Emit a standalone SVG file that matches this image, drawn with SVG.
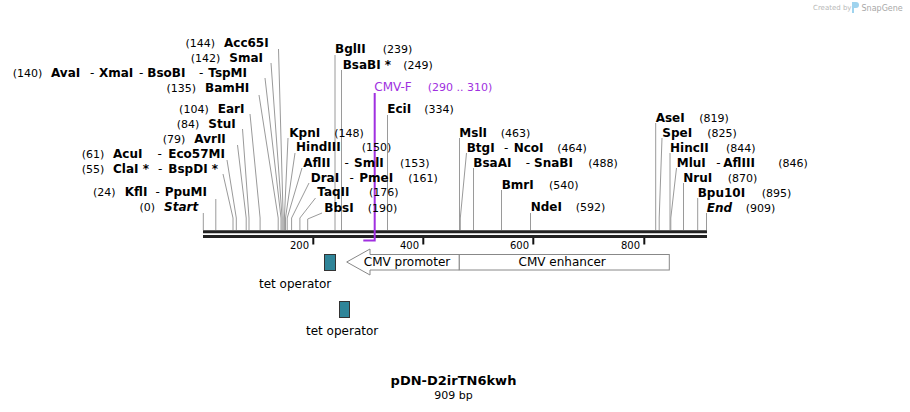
<svg xmlns="http://www.w3.org/2000/svg" width="910" height="412" viewBox="0 0 910 412">
<style>
text{font-family:"DejaVu Sans",Verdana,sans-serif;fill:#000}
.b{font-size:12px;font-weight:bold}
.h{font-size:12px;font-weight:normal}
.bi{font-size:12px;font-weight:bold;font-style:italic}
.n{font-size:11px}
.t{font-size:10px}
.f{font-size:12px}
.p{fill:#a030e0}
.c{fill:none;stroke:#9a9a9a;stroke-width:1}
.tick{stroke:#111;stroke-width:2}
.bb{stroke:#222;stroke-width:3}
.tet{fill:#2f8599;stroke:#333;stroke-width:1}
.feat{fill:#fff;stroke:#888;stroke-width:1}
</style>
<rect width="910" height="412" fill="#fff"/>

<g id="credit">
<text x="813" y="10" style="font-size:7px;fill:#b8b8b8">Created by</text>
<path d="M852,2 h4 a3,3 0 0 1 0,6 h-2 v5 h-2 z" fill="#9fd3ee"/>
<text x="861.5" y="11" style="font-size:8px;fill:#a8a8a8">SnapGene</text>
</g>

<g id="connectors">
<path class="c" d="M278.5,49 L283.2,218 V230"/>
<path class="c" d="M271,63 L282.1,218 V230"/>
<path class="c" d="M265,78 L281,218 V230"/>
<path class="c" d="M259,95 L278.2,218 V230"/>
<path class="c" d="M250,114 L260.1,218 V230"/>
<path class="c" d="M242.5,129 L249,218 V230"/>
<path class="c" d="M237.5,145 L246.2,218 V230"/>
<path class="c" d="M227,160 L236.3,218 V230"/>
<path class="c" d="M223,174 L233,218 V230"/>
<path class="c" d="M215.8,199 V230"/>
<path class="c" d="M203.3,213 V230"/>
<path class="c" d="M335,55 V230"/>
<path class="c" d="M341.5,70 V230"/>
<path class="c" d="M387.5,115 V230"/>
<path class="c" d="M288,138 L284.4,218 V230"/>
<path class="c" d="M295,153 L285.5,218 V230"/>
<path class="c" d="M302,168 L287.2,218 V230"/>
<path class="c" d="M309,183 L291.6,218 V230"/>
<path class="c" d="M315.5,198 L299.9,218 V230"/>
<path class="c" d="M322,213 L307.7,219 V230"/>
<path class="c" d="M459.5,138 V230"/>
<path class="c" d="M466.5,153 L460.3,218 V230"/>
<path class="c" d="M473.5,168 V230"/>
<path class="c" d="M501.5,190 V230"/>
<path class="c" d="M530.5,213 V230"/>
<path class="c" d="M655.7,123 V230"/>
<path class="c" d="M662,138 L659.2,218 V230"/>
<path class="c" d="M670,153 V230"/>
<path class="c" d="M676.5,168 L670.8,218 V230"/>
<path class="c" d="M683.5,183 V230"/>
<path class="c" d="M697.7,198 V230"/>
<path class="c" d="M706.5,213 V230"/>
</g>

<g id="backbone">
<line class="bb" x1="203" y1="231.75" x2="707" y2="231.75"/>
<line class="bb" x1="203" y1="236.5" x2="707" y2="236.5"/>
<line class="tick" x1="313.3" y1="238" x2="313.3" y2="244.5"/>
<line class="tick" x1="423.3" y1="238" x2="423.3" y2="244.5"/>
<line class="tick" x1="533.3" y1="238" x2="533.3" y2="244.5"/>
<line class="tick" x1="644.3" y1="238" x2="644.3" y2="244.5"/>
<text class="t" x="309" y="248.5" text-anchor="end">200</text>
<text class="t" x="419" y="248.5" text-anchor="end">400</text>
<text class="t" x="529" y="248.5" text-anchor="end">600</text>
<text class="t" x="640" y="248.5" text-anchor="end">800</text>
</g>

<g id="site-Acc65I"><text class="n" x="215" y="47" text-anchor="end">(144)</text><text class="b" x="224" y="47">Acc65I</text></g>
<g id="site-SmaI"><text class="n" x="220.3" y="61.5" text-anchor="end">(142)</text><text class="b" x="229.3" y="61.5">SmaI</text></g>
<g id="site-AvaI"><text class="n" x="42.3" y="76.5" text-anchor="end">(140)</text><text y="76.5"><tspan class="b" x="51">AvaI</tspan><tspan class="h" x="90">-</tspan><tspan class="b" x="99">XmaI</tspan><tspan class="h" x="139">-</tspan><tspan class="b" x="147.3">BsoBI</tspan><tspan class="h" x="199">-</tspan><tspan class="b" x="208.3">TspMI</tspan></text></g>
<g id="site-BamHI"><text class="n" x="196" y="91.5" text-anchor="end">(135)</text><text class="b" x="205" y="91.5">BamHI</text></g>
<g id="site-EarI"><text class="n" x="208.7" y="113" text-anchor="end">(104)</text><text class="b" x="217.7" y="113">EarI</text></g>
<g id="site-StuI"><text class="n" x="199.3" y="128" text-anchor="end">(84)</text><text class="b" x="208.3" y="128">StuI</text></g>
<g id="site-AvrII"><text class="n" x="185.3" y="143" text-anchor="end">(79)</text><text class="b" x="194.3" y="143">AvrII</text></g>
<g id="site-AcuI"><text class="n" x="104.3" y="158" text-anchor="end">(61)</text><text y="158"><tspan class="b" x="113">AcuI</tspan><tspan class="h" x="157.5">-</tspan><tspan class="b" x="168.3">Eco57MI</tspan></text></g>
<g id="site-ClaI"><text class="n" x="104.3" y="173" text-anchor="end">(55)</text><text y="173"><tspan class="b" x="113">ClaI *</tspan><tspan class="h" x="158">-</tspan><tspan class="b" x="168.3">BspDI *</tspan></text></g>
<g id="site-KflI"><text class="n" x="115.5" y="196" text-anchor="end">(24)</text><text y="196"><tspan class="b" x="124.7">KflI</tspan><tspan class="h" x="155.5">-</tspan><tspan class="b" x="164.7">PpuMI</tspan></text></g>
<g id="site-Start"><text class="n" x="155" y="211" text-anchor="end">(0)</text><text class="bi" x="164" y="211">Start</text></g>

<g id="site-BglII"><text y="53"><tspan class="b" x="335">BglII</tspan><tspan class="n" x="382.7">(239)</tspan></text></g>
<g id="site-BsaBI"><text y="68.5"><tspan class="b" x="342.7">BsaBI *</tspan><tspan class="n" x="403.3">(249)</tspan></text></g>
<g id="primer-CMV-F">
<path d="M374.7,93 V240.5 H363.3" fill="none" stroke="#a030e0" stroke-width="2"/>
<text y="91"><tspan class="f p" x="374.3">CMV-F</tspan><tspan class="n p" x="427.7">(290 .. 310)</tspan></text>
</g>
<g id="site-EciI"><text y="112.5"><tspan class="b" x="387.3">EciI</tspan><tspan class="n" x="424.3">(334)</tspan></text></g>
<g id="site-KpnI"><text y="136.5"><tspan class="b" x="289.3">KpnI</tspan><tspan class="n" x="334.3">(148)</tspan></text></g>
<g id="site-HindIII"><text y="151"><tspan class="b" x="296">HindIII</tspan><tspan class="n" x="361.7">(150)</tspan></text></g>
<g id="site-AflII"><text y="166.5"><tspan class="b" x="303.3">AflII</tspan><tspan class="h" x="344.5">-</tspan><tspan class="b" x="354">SmlI</tspan><tspan class="n" x="400">(153)</tspan></text></g>
<g id="site-DraI"><text y="181.5"><tspan class="b" x="310.7">DraI</tspan><tspan class="h" x="349.5">-</tspan><tspan class="b" x="359.3">PmeI</tspan><tspan class="n" x="408.3">(161)</tspan></text></g>
<g id="site-TaqII"><text y="196"><tspan class="b" x="317.3">TaqII</tspan><tspan class="n" x="369">(176)</tspan></text></g>
<g id="site-BbsI"><text y="211.5"><tspan class="b" x="324.3">BbsI</tspan><tspan class="n" x="367.7">(190)</tspan></text></g>
<g id="site-MslI"><text y="136.5"><tspan class="b" x="459.3">MslI</tspan><tspan class="n" x="500.7">(463)</tspan></text></g>
<g id="site-BtgI"><text y="151.5"><tspan class="b" x="466.7">BtgI</tspan><tspan class="h" x="504">-</tspan><tspan class="b" x="513.7">NcoI</tspan><tspan class="n" x="557.3">(464)</tspan></text></g>
<g id="site-BsaAI"><text y="166.5"><tspan class="b" x="473.3">BsaAI</tspan><tspan class="h" x="525.8">-</tspan><tspan class="b" x="534">SnaBI</tspan><tspan class="n" x="588.3">(488)</tspan></text></g>
<g id="site-BmrI"><text y="188.5"><tspan class="b" x="501.7">BmrI</tspan><tspan class="n" x="549">(540)</tspan></text></g>
<g id="site-NdeI"><text y="211"><tspan class="b" x="530.7">NdeI</tspan><tspan class="n" x="575.7">(592)</tspan></text></g>
<g id="site-AseI"><text y="121.5"><tspan class="b" x="655.7">AseI</tspan><tspan class="n" x="699.3">(819)</tspan></text></g>
<g id="site-SpeI"><text y="136.5"><tspan class="b" x="662.3">SpeI</tspan><tspan class="n" x="707.3">(825)</tspan></text></g>
<g id="site-HincII"><text y="151.5"><tspan class="b" x="670">HincII</tspan><tspan class="n" x="726">(844)</tspan></text></g>
<g id="site-MluI"><text y="166.5"><tspan class="b" x="676.7">MluI</tspan><tspan class="h" x="716.2">-</tspan><tspan class="b" x="723.3">AflIII</tspan><tspan class="n" x="778.3">(846)</tspan></text></g>
<g id="site-NruI"><text y="181.5"><tspan class="b" x="683.3">NruI</tspan><tspan class="n" x="727.7">(870)</tspan></text></g>
<g id="site-Bpu10I"><text y="196.5"><tspan class="b" x="697.7">Bpu10I</tspan><tspan class="n" x="761.7">(895)</tspan></text></g>
<g id="site-End"><text y="211.5"><tspan class="bi" x="706.7">End</tspan><tspan class="n" x="745.7">(909)</tspan></text></g>

<g id="feature-CMV-promoter">
<path class="feat" d="M346.7,262 L370,249 V254.5 H459.3 V270 H370 V275 Z"/>
<text class="f" x="407" y="266" text-anchor="middle">CMV promoter</text>
</g>
<g id="feature-CMV-enhancer">
<rect class="feat" x="459.3" y="254.5" width="210" height="15.5"/>
<text class="f" x="562.2" y="266" text-anchor="middle">CMV enhancer</text>
</g>
<g id="feature-tet-operator-1">
<rect class="tet" x="324.5" y="254.5" width="11" height="16"/>
<text class="f" x="259" y="288">tet operator</text>
</g>
<g id="feature-tet-operator-2">
<rect class="tet" x="339.5" y="301.5" width="10" height="16"/>
<text class="f" x="306" y="335">tet operator</text>
</g>

<g id="title">
<text x="453.5" y="385" text-anchor="middle" style="font-size:13px;font-weight:bold">pDN-D2irTN6kwh</text>
<text class="n" x="453.5" y="399" text-anchor="middle">909 bp</text>
</g>
</svg>
